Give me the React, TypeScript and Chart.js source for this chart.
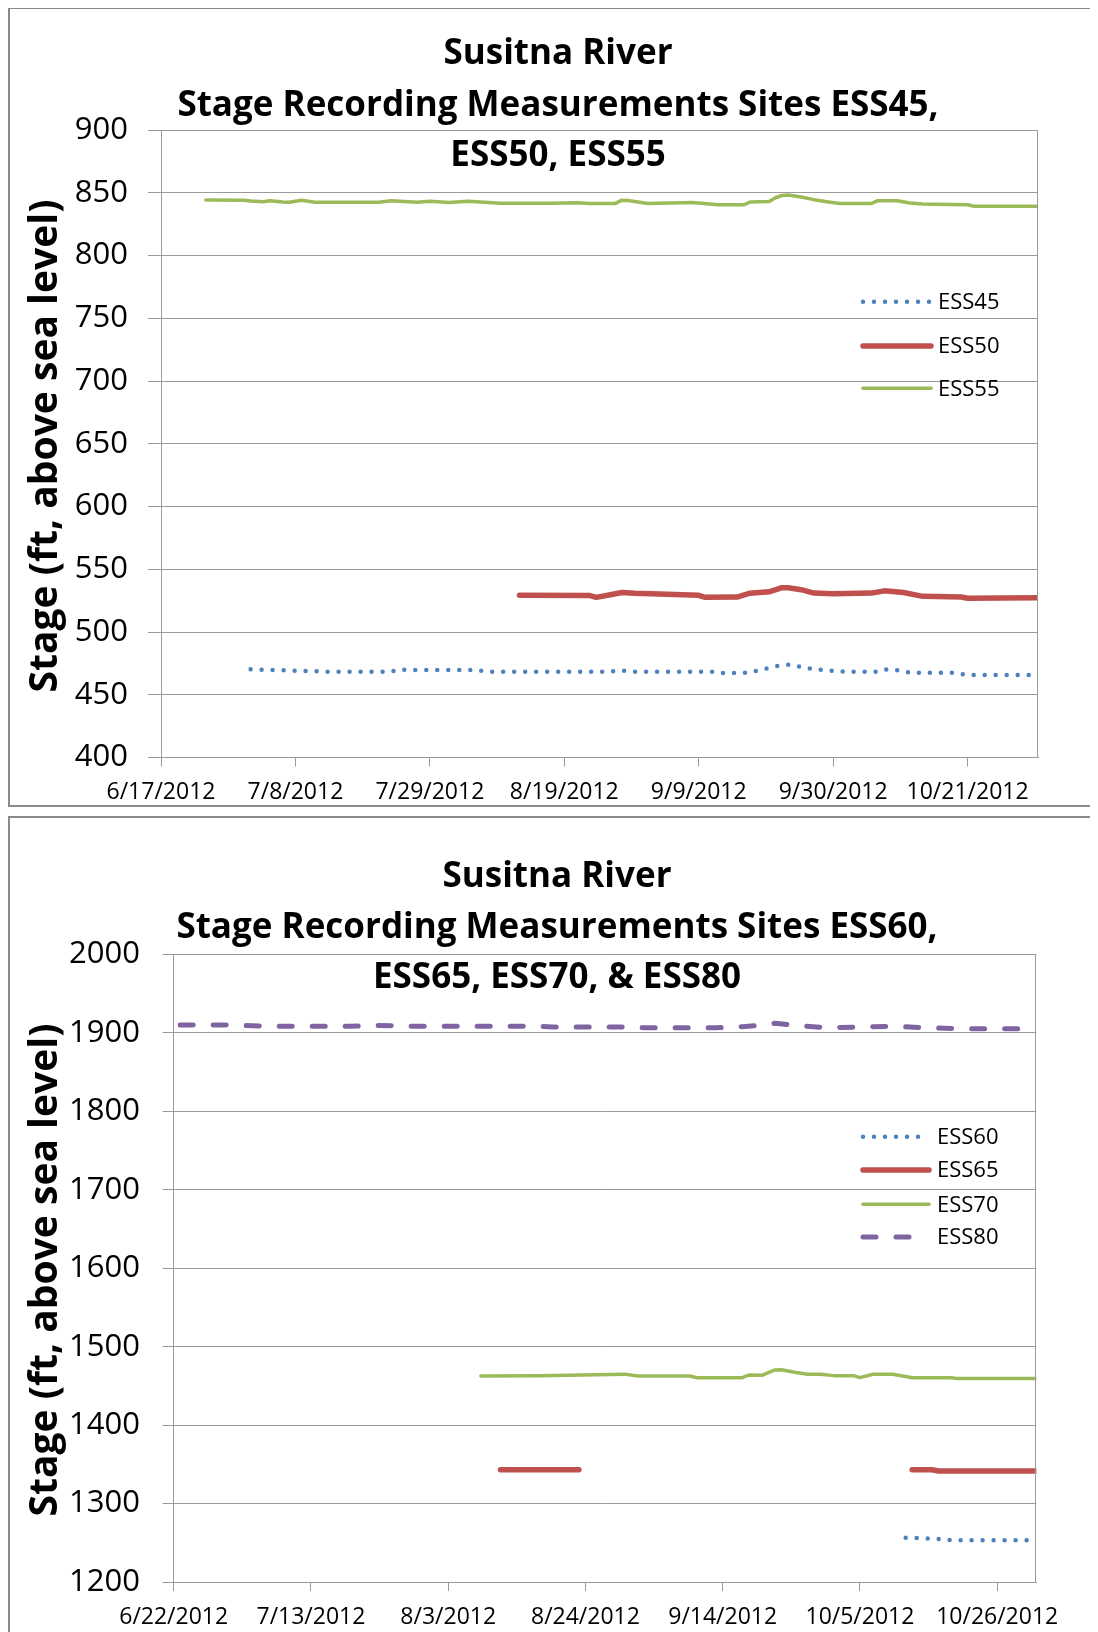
import React, { useEffect, useRef } from 'react';
import { Chart, registerables } from 'chart.js';

Chart.register(...registerables);

// ---------- Chart 1 data ----------
const c1Title = ['Susitna River', 'Stage Recording Measurements Sites ESS45,', 'ESS50, ESS55'];
const c1AxisStart = '2012-06-17';
const c1AxisEnd = '2012-11-01';
const c1TickDates = ['2012-06-17', '2012-07-08', '2012-07-29', '2012-08-19', '2012-09-09', '2012-09-30', '2012-10-21'];
const c1YMin = 400;
const c1YMax = 900;
const c1YStep = 50;

const ess45Dates = ['2012-07-01', '2012-07-04', '2012-07-13', '2012-07-23', '2012-07-24', '2012-07-27', '2012-08-05', '2012-08-07', '2012-08-26', '2012-08-28', '2012-08-30', '2012-09-11', '2012-09-13', '2012-09-16', '2012-09-18', '2012-09-21', '2012-09-23', '2012-09-25', '2012-09-27', '2012-09-30', '2012-10-02', '2012-10-07', '2012-10-08', '2012-10-11', '2012-10-12', '2012-10-19', '2012-10-21', '2012-11-01'];
const ess45Values = [470.3, 469.8, 468.4, 468.4, 470.0, 469.8, 469.8, 468.4, 468.4, 469.2, 468.4, 468.4, 467.3, 467.3, 469.0, 472.7, 474.0, 472.3, 470.3, 469.0, 468.4, 468.4, 470.3, 469.0, 467.5, 467.5, 465.7, 465.7];

const ess50Dates = ['2012-08-12', '2012-08-23', '2012-08-24', '2012-08-26', '2012-08-28', '2012-08-30', '2012-09-09', '2012-09-10', '2012-09-15', '2012-09-17', '2012-09-20', '2012-09-22', '2012-09-23', '2012-09-25', '2012-09-27', '2012-09-30', '2012-10-06', '2012-10-08', '2012-10-11', '2012-10-14', '2012-10-20', '2012-10-21', '2012-11-01'];
const ess50Values = [529.2, 529.0, 527.6, 529.5, 531.5, 530.8, 529.2, 527.6, 527.8, 530.9, 532.0, 535.3, 535.3, 533.7, 531.0, 530.4, 531.0, 532.8, 531.5, 528.4, 527.9, 526.9, 527.2];

const ess55Dates = ['2012-06-24', '2012-06-30', '2012-07-01', '2012-07-03', '2012-07-04', '2012-07-06', '2012-07-07', '2012-07-09', '2012-07-11', '2012-07-21', '2012-07-23', '2012-07-27', '2012-07-29', '2012-08-01', '2012-08-04', '2012-08-09', '2012-08-17', '2012-08-21', '2012-08-23', '2012-08-27', '2012-08-28', '2012-08-29', '2012-09-01', '2012-09-08', '2012-09-12', '2012-09-16', '2012-09-17', '2012-09-20', '2012-09-21', '2012-09-22', '2012-09-23', '2012-09-25', '2012-09-27', '2012-09-29', '2012-10-01', '2012-10-06', '2012-10-07', '2012-10-10', '2012-10-12', '2012-10-14', '2012-10-16', '2012-10-21', '2012-10-22', '2012-11-01'];
const ess55Values = [844.2, 844.0, 843.5, 842.9, 843.6, 842.6, 842.4, 844.0, 842.4, 842.4, 843.6, 842.4, 843.3, 842.2, 843.3, 841.6, 841.6, 842.0, 841.5, 841.5, 844.1, 843.8, 841.5, 842.2, 840.4, 840.4, 842.6, 843.0, 846.0, 847.8, 848.2, 846.6, 844.5, 842.9, 841.5, 841.5, 843.7, 843.7, 841.8, 841.0, 840.8, 840.5, 839.3, 839.3];

// ---------- Chart 2 data ----------
const c2Title = ['Susitna River', 'Stage Recording Measurements Sites ESS60,', 'ESS65, ESS70, & ESS80'];
const c2AxisStart = '2012-06-22';
const c2AxisEnd = '2012-11-01';
const c2TickDates = ['2012-06-22', '2012-07-13', '2012-08-03', '2012-08-24', '2012-09-14', '2012-10-05', '2012-10-26'];
const c2YMin = 1200;
const c2YMax = 2000;
const c2YStep = 100;

const ess60Dates = ['2012-10-12', '2012-10-15', '2012-10-17', '2012-10-19', '2012-11-01'];
const ess60Values = [1256.5, 1255.7, 1255.0, 1253.3, 1253.2];

const ess65Dates = ['2012-08-11', '2012-08-23', '2012-09-15', '2012-10-13', '2012-10-16', '2012-10-17', '2012-11-01'];
const ess65Values = [1343.0, 1343.0, null, 1343.2, 1343.0, 1341.6, 1341.6];

const ess70Dates = ['2012-08-08', '2012-08-17', '2012-08-30', '2012-09-01', '2012-09-09', '2012-09-10', '2012-09-17', '2012-09-18', '2012-09-20', '2012-09-22', '2012-09-23', '2012-09-25', '2012-09-27', '2012-09-29', '2012-10-01', '2012-10-04', '2012-10-05', '2012-10-07', '2012-10-10', '2012-10-12', '2012-10-13', '2012-10-19', '2012-10-20', '2012-11-01'];
const ess70Values = [1462.6, 1463.0, 1465.0, 1462.6, 1462.6, 1460.5, 1460.5, 1463.9, 1463.5, 1470.3, 1470.7, 1467.4, 1464.8, 1464.8, 1463.1, 1463.1, 1460.5, 1464.8, 1464.8, 1462.0, 1460.5, 1460.5, 1459.3, 1459.3];

const ess80Dates = ['2012-06-23', '2012-07-01', '2012-07-06', '2012-07-19', '2012-07-23', '2012-07-28', '2012-08-17', '2012-08-19', '2012-08-29', '2012-09-02', '2012-09-13', '2012-09-17', '2012-09-21', '2012-09-22', '2012-09-25', '2012-09-30', '2012-10-05', '2012-10-10', '2012-10-15', '2012-10-20', '2012-11-01'];
const ess80Values = [1910.1, 1910.0, 1908.5, 1908.5, 1909.7, 1908.5, 1908.5, 1907.6, 1907.6, 1906.7, 1906.7, 1908.0, 1910.5, 1912.3, 1909.7, 1906.7, 1907.6, 1908.5, 1906.7, 1905.4, 1905.4];

const yAxisTitle = 'Stage (ft, above sea level)';

// ---------- styles ----------
const BLUE = '#4F81BD';
const RED = '#C0504D';
const GREEN = '#9BBB59';
const PURPLE = '#8064A2';
const GRID = '#9a9a9a';
const FONT = '"Open Sans", "Noto Sans", sans-serif';

const dayNum = (s: string) => {
  const [y, m, d] = s.split('-').map(Number);
  return Math.round(Date.UTC(y, m - 1, d) / 86400000);
};
const fmtDay = (v: number) => {
  const dt = new Date(v * 86400000);
  return `${dt.getUTCMonth() + 1}/${dt.getUTCDate()}/${dt.getUTCFullYear()}`;
};
const pts = (dates: string[], vals: (number | null)[]) => dates.map((d, i) => ({ x: dayNum(d), y: vals[i] }));

const dotted = (label: string, color: string, dates: string[], vals: (number | null)[]) => ({
  label, data: pts(dates, vals), borderColor: color, borderWidth: 4.5, borderDash: [0, 11],
  borderCapStyle: 'round', borderJoinStyle: 'round', pointRadius: 0, tension: 0, spanGaps: false,
});
const solid = (label: string, color: string, width: number, dates: string[], vals: (number | null)[]) => ({
  label, data: pts(dates, vals), borderColor: color, borderWidth: width, borderDash: [],
  borderCapStyle: 'round', borderJoinStyle: 'round', pointRadius: 0, tension: 0, spanGaps: false,
});
const dashed = (label: string, color: string, dates: string[], vals: (number | null)[]) => ({
  label, data: pts(dates, vals), borderColor: color, borderWidth: 5, borderDash: [13, 20],
  borderCapStyle: 'round', borderJoinStyle: 'round', pointRadius: 0, tension: 0, spanGaps: false,
});

type Layout = {
  width: number; height: number; top: number; right: number; yW: number; xH: number;
  yPad: number; yTick: number; xPad: number;
  titleX: number; titleYs: number[]; yTitleX: number; yTitleY: number;
  legX1: number; legX2: number; legTextX: number; legYs: number[];
};

function makeConfig(datasets: any[], title: string[], start: string, end: string, tickDates: string[], yMin: number, yMax: number, yStep: number, L: Layout) {
  const overlay = {
    id: 'overlay',
    afterDraw(chart: any) {
      const ctx = chart.ctx;
      const a = chart.chartArea;
      ctx.save();
      ctx.strokeStyle = GRID;
      ctx.lineWidth = 1;
      ctx.beginPath();
      ctx.moveTo(Math.round(a.right) - 0.5, a.top);
      ctx.lineTo(Math.round(a.right) - 0.5, a.bottom);
      ctx.stroke();
      ctx.fillStyle = '#000';
      ctx.textAlign = 'center';
      ctx.textBaseline = 'alphabetic';
      ctx.font = `bold 35px ${FONT}`;
      title.forEach((t, i) => ctx.fillText(t, L.titleX, L.titleYs[i]));
      ctx.save();
      ctx.translate(L.yTitleX, L.yTitleY);
      ctx.rotate(-Math.PI / 2);
      ctx.font = `bold 39px ${FONT}`;
      ctx.fillText(yAxisTitle, 0, 0);
      ctx.restore();
      chart.data.datasets.forEach((ds: any, i: number) => {
        const y = L.legYs[i];
        ctx.beginPath();
        ctx.strokeStyle = ds.borderColor;
        ctx.lineWidth = ds.borderWidth;
        ctx.lineCap = ds.borderCapStyle;
        ctx.setLineDash(ds.borderDash || []);
        ctx.moveTo(L.legX1, y);
        ctx.lineTo(L.legX2, y);
        ctx.stroke();
        ctx.setLineDash([]);
        ctx.textAlign = 'left';
        ctx.textBaseline = 'middle';
        ctx.font = `22px ${FONT}`;
        ctx.fillStyle = '#000';
        ctx.fillText(ds.label, L.legTextX, y + 1);
      });
      ctx.restore();
    },
  };
  return {
    type: 'line',
    data: { datasets },
    plugins: [overlay],
    options: {
      responsive: false,
      animation: false,
      devicePixelRatio: 1,
      layout: { padding: { left: 0, top: L.top, right: L.right, bottom: 0 } },
      plugins: { legend: { display: false }, title: { display: false }, tooltip: { enabled: false } },
      scales: {
        x: {
          type: 'linear',
          min: dayNum(start),
          max: dayNum(end),
          afterBuildTicks: (s: any) => { s.ticks = tickDates.map((d) => ({ value: dayNum(d) })); },
          afterFit: (s: any) => { s.height = L.xH; },
          grid: { display: true, drawOnChartArea: false, drawTicks: true, tickLength: 9, color: GRID },
          border: { display: true, color: GRID },
          ticks: { callback: (v: number) => fmtDay(v), font: { family: FONT, size: 23 }, color: '#000', padding: L.xPad, maxRotation: 0, autoSkip: false },
        },
        y: {
          min: yMin,
          max: yMax,
          afterFit: (s: any) => { s.width = L.yW; },
          grid: { color: GRID, tickLength: L.yTick },
          border: { display: true, color: GRID },
          ticks: { stepSize: yStep, callback: (v: number) => String(v), font: { family: FONT, size: 31 }, color: '#000', padding: L.yPad },
        },
      },
    },
  };
}

function LineChart({ cfg, width, height }: { cfg: () => any; width: number; height: number }) {
  const ref = useRef<HTMLCanvasElement | null>(null);
  useEffect(() => {
    const chart = new Chart(ref.current as HTMLCanvasElement, cfg());
    return () => chart.destroy();
  }, []);
  return <canvas ref={ref} width={width} height={height} style={{ display: 'block' }} />;
}

const L1: Layout = {
  width: 1086, height: 796, top: 121, right: 58, yW: 151, xH: 47.5, yPad: 20, yTick: 13, xPad: 12,
  titleX: 548, titleYs: [55, 106.5, 157], yTitleX: 47, yTitleY: 437,
  legX1: 853, legX2: 921, legTextX: 928, legYs: [292.7, 337, 379.3],
};
const L2: Layout = {
  width: 1086, height: 816, top: 136.5, right: 59.6, yW: 163.7, xH: 52, yPad: 22.7, yTick: 11, xPad: 13,
  titleX: 547, titleYs: [68.7, 120, 170.3], yTitleX: 47, yTitleY: 452,
  legX1: 853, legX2: 919, legTextX: 927, legYs: [318.7, 352, 386.3, 419],
};

const cfg1 = () => makeConfig(
  [dotted('ESS45', BLUE, ess45Dates, ess45Values), solid('ESS50', RED, 5.5, ess50Dates, ess50Values), solid('ESS55', GREEN, 3.5, ess55Dates, ess55Values)],
  c1Title, c1AxisStart, c1AxisEnd, c1TickDates, c1YMin, c1YMax, c1YStep, L1);
const cfg2 = () => makeConfig(
  [dotted('ESS60', BLUE, ess60Dates, ess60Values), solid('ESS65', RED, 5.5, ess65Dates, ess65Values), solid('ESS70', GREEN, 3.5, ess70Dates, ess70Values), dashed('ESS80', PURPLE, ess80Dates, ess80Values)],
  c2Title, c2AxisStart, c2AxisEnd, c2TickDates, c2YMin, c2YMax, c2YStep, L2);

export default function App() {
  useEffect(() => {
    document.documentElement.style.overflow = 'hidden';
    document.body.style.overflow = 'hidden';
  }, []);
  const box: React.CSSProperties = { width: 1090, border: '2px solid #8a8a8a', boxSizing: 'border-box', background: '#fff', overflow: 'hidden' };
  return (
    <div style={{ marginTop: -1, height: 1625, overflow: 'hidden' }}>
      <div style={{ ...box, height: 800 }}>
        <LineChart cfg={cfg1} width={L1.width} height={L1.height} />
      </div>
      <div style={{ ...box, height: 820, marginTop: 9 }}>
        <LineChart cfg={cfg2} width={L2.width} height={L2.height} />
      </div>
    </div>
  );
}
